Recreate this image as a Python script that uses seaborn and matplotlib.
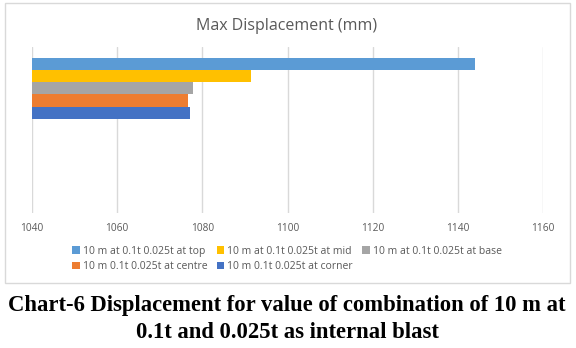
import matplotlib
matplotlib.use("Agg")
import matplotlib.pyplot as plt
from matplotlib.patches import Rectangle
import pandas as pd
import seaborn as sns

# Data
series = [
    "10 m at 0.1t 0.025t at top",
    "10 m at 0.1t 0.025t at mid",
    "10 m at 0.1t 0.025t at base",
    "10 m 0.1t 0.025t at centre",
    "10 m 0.1t 0.025t at corner",
]
values = [1144.1, 1091.5, 1077.8, 1076.6, 1077.0]
colors = ["#5B9BD5", "#FFC000", "#A5A5A5", "#ED7D31", "#4472C4"]
x_ticks = [1040, 1060, 1080, 1100, 1120, 1140, 1160]

df = pd.DataFrame({"group": ["1"] * len(series), "series": series, "value": values})

sns.set_theme(style="white")
plt.rcParams["font.family"] = ["Open Sans", "DejaVu Sans"]

W, H = 576, 348
fig = plt.figure(figsize=(W / 100, H / 100), dpi=100)
fig.patch.set_facecolor("white")

# chart frame
fig.add_artist(Rectangle((4.7 / W, 1 - 282.5 / H), (570 - 4.7) / W, (282.5 - 3.3) / H,
                         transform=fig.transFigure, fill=False,
                         edgecolor="#D9D9D9", linewidth=1.0))

left, right, top, bottom = 32, 543, 46.7, 213
ax = fig.add_axes([left / W, 1 - bottom / H, (right - left) / W, (bottom - top) / H])

sns.barplot(data=df, x="value", y="group", hue="series", hue_order=series,
            palette=colors, orient="h", width=0.74, dodge=True, ax=ax,
            legend=False, saturation=1, linewidth=0, gap=0)

ax.set_xlim(1040, 1160)
ax.set_ylim(1.5, -0.5)
ax.set_xticks(x_ticks)
ax.set_xticklabels([str(t) for t in x_ticks], fontsize=7.3, color="#595959")
ax.tick_params(axis="x", length=0, pad=7)
ax.set_yticks([])
ax.set_xlabel("")
ax.set_ylabel("")
ax.grid(axis="x", color="#D9D9D9", linewidth=1.0)
ax.set_axisbelow(True)
for s in ax.spines.values():
    s.set_visible(False)

fig.text(287 / W, 1 - 26 / H, "Max Displacement (mm)", ha="center", va="center",
         fontsize=11.5, color="#595959")

# legend filled row by row: 3 entries on the first row, 2 on the second
order = [0, 3, 1, 4, 2]
handles = [Rectangle((0, 0), 1, 1, facecolor=colors[i], edgecolor="none") for i in order]
labels = [series[i] for i in order]
fig.legend(handles, labels, loc="center", ncol=3,
           bbox_to_anchor=(287 / W, 1 - 259 / H), frameon=False,
           fontsize=7.5, labelcolor="#595959", handlelength=0.7, handleheight=0.7,
           handletextpad=0.3, columnspacing=0.9, labelspacing=0.45,
           borderpad=0)

cap = dict(ha="center", va="baseline", fontsize=16.3, fontweight="bold",
           family=["Liberation Serif", "DejaVu Serif"], color="black")
fig.text(287 / W, 1 - 310.7 / H, "Chart-6 Displacement for value of combination of 10 m at", **cap)
fig.text(287 / W, 1 - 338.3 / H, "0.1t and 0.025t as internal blast", **cap)

fig.savefig("out.png", dpi=100, facecolor="white")
